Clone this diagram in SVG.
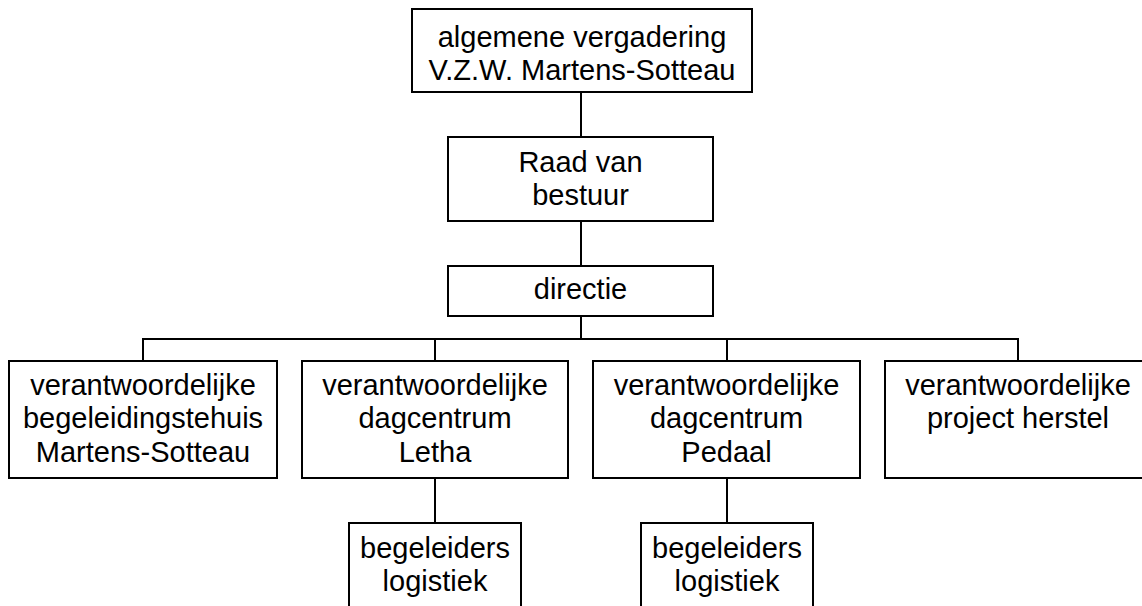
<svg xmlns="http://www.w3.org/2000/svg" width="1142" height="606" viewBox="0 0 1142 606">
<style>
  .box { fill: #ffffff; stroke: #000000; stroke-width: 2; }
  .conn { fill: none; stroke: #000000; stroke-width: 2; }
  text { font-family: "Liberation Sans", Arial, sans-serif; font-size: 29px; fill: #000000; text-anchor: middle; }
</style>
<rect width="1142" height="606" fill="#ffffff"/>
<g id="connectors">
  <path class="conn" d="M581 92 V137"/>
  <path class="conn" d="M581 221 V266"/>
  <path class="conn" d="M581 316 V339"/>
  <path class="conn" d="M143 361 V339 H1018 V361"/>
  <path class="conn" d="M435 339 V361"/>
  <path class="conn" d="M727 339 V361"/>
  <path class="conn" d="M435 478 V523"/>
  <path class="conn" d="M727 478 V523"/>
</g>
<g id="algemene-vergadering">
  <rect class="box" x="412" y="9" width="340" height="83"/>
  <text x="582" y="47">algemene vergadering</text>
  <text x="582" y="80">V.Z.W. Martens-Sotteau</text>
</g>
<g id="raad-van-bestuur">
  <rect class="box" x="448" y="137" width="265" height="84"/>
  <text x="580.5" y="172">Raad van</text>
  <text x="580.5" y="205">bestuur</text>
</g>
<g id="directie">
  <rect class="box" x="448" y="266" width="265" height="50"/>
  <text x="580.5" y="299">directie</text>
</g>
<g id="begeleidingstehuis">
  <rect class="box" x="9" y="361" width="268" height="117"/>
  <text x="143" y="395">verantwoordelijke</text>
  <text x="143" y="428">begeleidingstehuis</text>
  <text x="143" y="462">Martens-Sotteau</text>
</g>
<g id="dagcentrum-letha">
  <rect class="box" x="302" y="361" width="266" height="117"/>
  <text x="435" y="395">verantwoordelijke</text>
  <text x="435" y="428">dagcentrum</text>
  <text x="435" y="462">Letha</text>
</g>
<g id="dagcentrum-pedaal">
  <rect class="box" x="593" y="361" width="267" height="117"/>
  <text x="726.5" y="395">verantwoordelijke</text>
  <text x="726.5" y="428">dagcentrum</text>
  <text x="726.5" y="462">Pedaal</text>
</g>
<g id="project-herstel">
  <rect class="box" x="885" y="361" width="267" height="117"/>
  <text x="1018" y="395">verantwoordelijke</text>
  <text x="1018" y="428">project herstel</text>
</g>
<g id="begeleiders-letha">
  <rect class="box" x="349" y="523" width="172" height="100"/>
  <text x="435" y="558">begeleiders</text>
  <text x="435" y="591">logistiek</text>
</g>
<g id="begeleiders-pedaal">
  <rect class="box" x="641" y="523" width="172" height="100"/>
  <text x="727" y="558">begeleiders</text>
  <text x="727" y="591">logistiek</text>
</g>
</svg>
